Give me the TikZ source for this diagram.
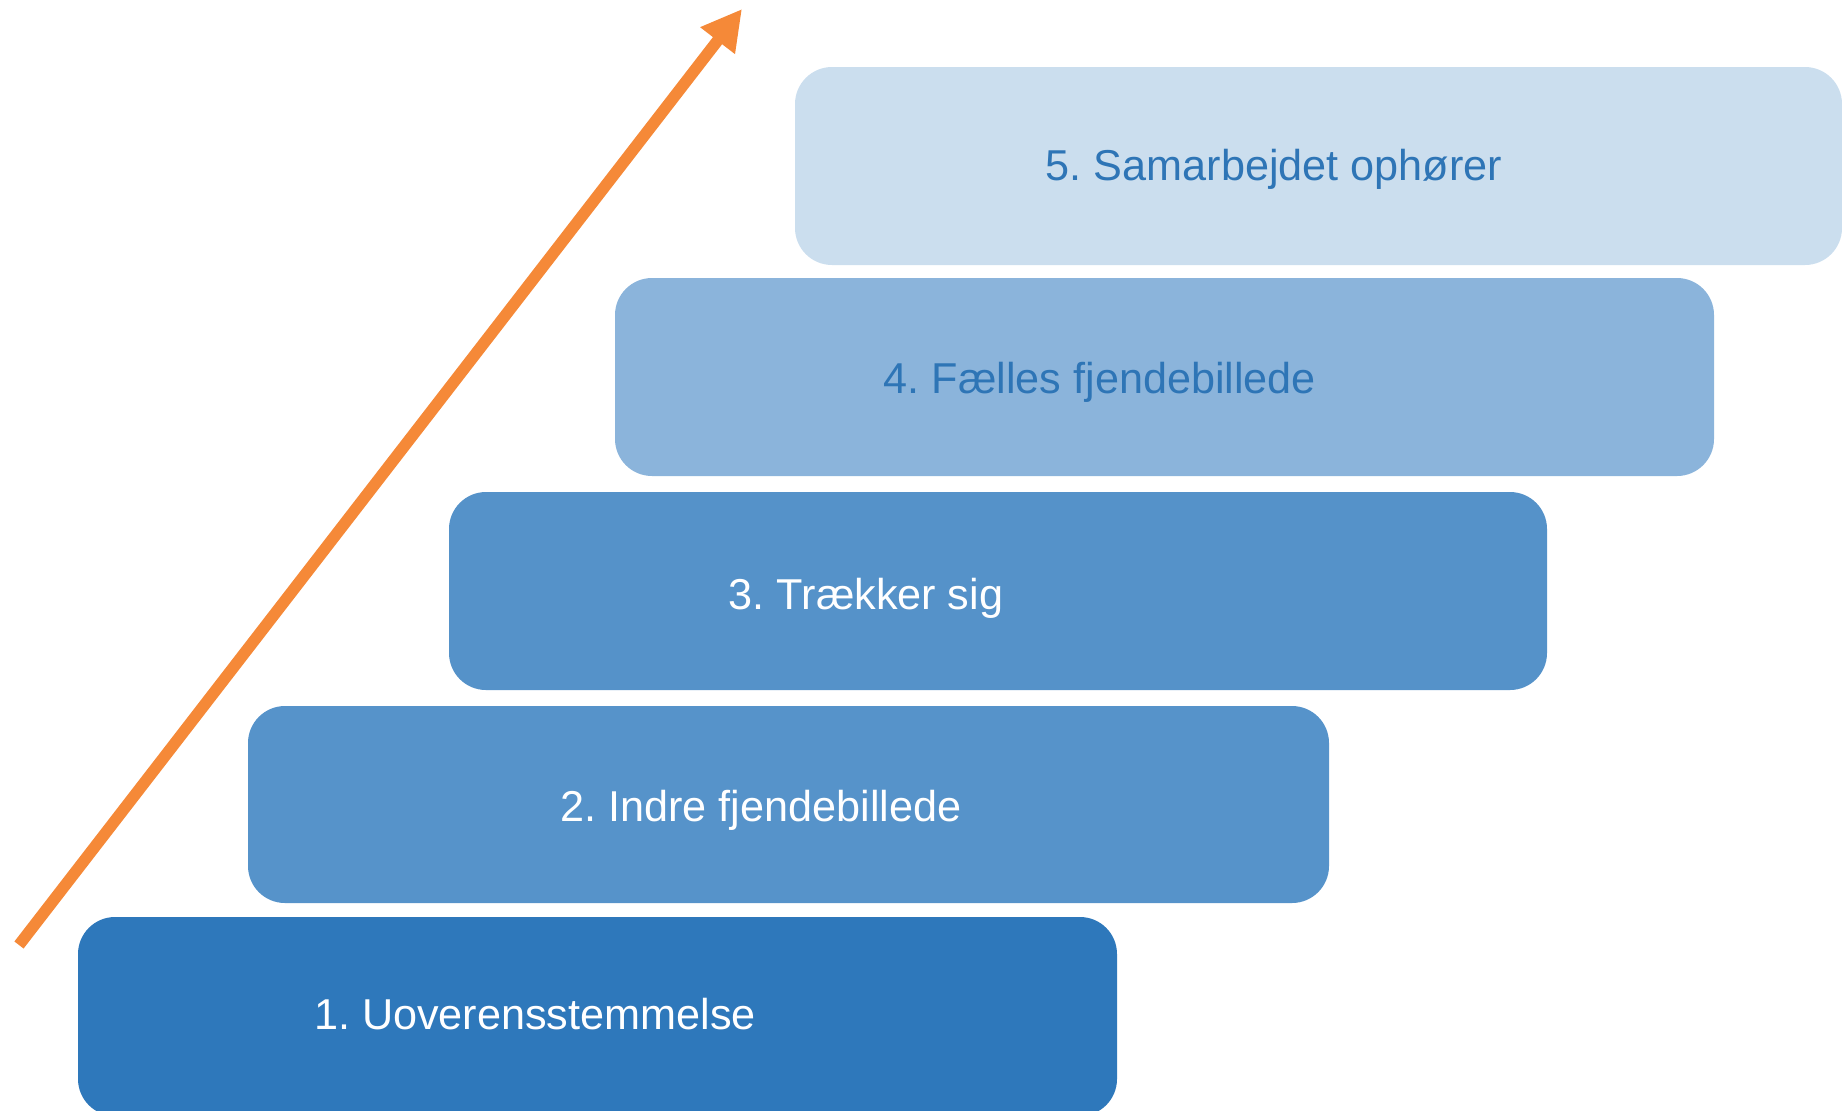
\documentclass[tikz,border=0pt]{standalone}
\usepackage{fontspec}
\setmainfont{Liberation Sans}
\usetikzlibrary{arrows.meta}
\definecolor{stepA}{RGB}{46,120,187}
\definecolor{stepB}{RGB}{86,147,202}
\definecolor{stepC}{RGB}{85,146,201}
\definecolor{stepD}{RGB}{139,180,219}
\definecolor{stepE}{RGB}{203,222,238}
\definecolor{darktext}{RGB}{46,117,182}
\definecolor{rise}{RGB}{245,137,56}
\tikzset{
  stepbox/.style={fill=#1, draw=none, rounded corners=18.5pt, inner sep=0pt},
  steptext/.style={anchor=base, font=\fontsize{21.6pt}{26pt}\selectfont, text=#1, inner sep=0pt},
  risearrow/.style={draw=rise, line width=5.8pt, -{Triangle[length=20pt,width=20.5pt]}}
}
\frenchspacing
\begin{document}
\begin{tikzpicture}[x=0.5pt, y=-0.5pt]
  \useasboundingbox (0,0) rectangle (1842,1110);
  \clip (0,0) rectangle (1842,1110);
  % stairs, bottom to top
  \path[stepbox=stepA] (78,917) rectangle (1117,1116);
  \node (b1) at (597.5,1016.5) {};
  \path[stepbox=stepB] (248,706) rectangle (1329,903);
  \node (b2) at (788.5,804.5) {};
  \path[stepbox=stepC] (449,492) rectangle (1547,690);
  \node (b3) at (998,591) {};
  \path[stepbox=stepD] (615,278) rectangle (1714,476);
  \node (b4) at (1164.5,377) {};
  \path[stepbox=stepE] (795,67) rectangle (1842,265);
  \node (b5) at (1318.5,166) {};
  % labels
  \node[steptext=white] (t1) at (535,1029) {1. Uoverensstemmelse};
  \node[steptext=white] (t2) at (761,821) {2. Indre fjendebillede};
  \node[steptext=white] (t3) at (866,609) {3. Trækker sig};
  \node[steptext=darktext] (t4) at (1100,393) {4. Fælles fjendebillede};
  \node[steptext=darktext] (t5) at (1274,180) {5. Samarbejdet ophører};
  % escalation arrow
  \coordinate (from) at (19,945);
  \coordinate (to) at (742,9);
  \draw[risearrow] (from) -- (to);
\end{tikzpicture}
\end{document}
